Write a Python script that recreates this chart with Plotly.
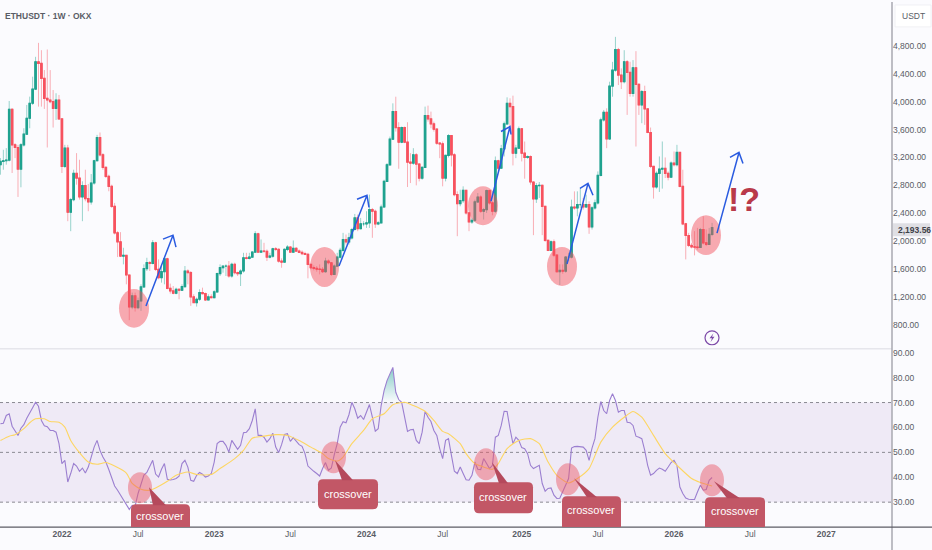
import pandas as pd
import plotly.graph_objects as go
from plotly.subplots import make_subplots

# Weekly ETHUSDT candles
first_week = "2021-08-09"
first_open = 3096

closes = [
    3143, 3153, 3162, 3891, 3381, 3343, 3034, 3381, 3534, 3762, 3977, 4181, 4572, 4548, 4334, 4048, 4024, 4000, 3905, 4024,
    3753, 3072, 3334, 2415, 2596, 2972, 2905, 2634, 2796, 2610, 2562, 2834, 3153, 3486, 3238, 3057, 2929, 2786, 2500, 2119,
    1991, 1786, 1796, 1515, 1057, 1215, 1048, 1143, 1343, 1605, 1691, 1681, 1976, 1596, 1477, 1562, 1748, 1324, 1286, 1253,
    1310, 1296, 1348, 1572, 1548, 1200, 1119, 1167, 1262, 1248, 1157, 1200, 1191, 1272, 1534, 1619, 1643, 1643, 1500, 1667,
    1548, 1534, 1572, 1762, 1753, 1772, 1843, 2105, 1843, 1857, 1855, 1772, 1786, 1891, 1881, 1715, 1700, 1881, 1915, 1843,
    1896, 1857, 1838, 1820, 1810, 1667, 1619, 1610, 1600, 1595, 1562, 1714, 1690, 1524, 1643, 1771, 1867, 2024, 1990, 2048,
    2167, 2333, 2181, 2248, 2248, 2262, 2452, 2429, 2248, 2262, 2490, 2857, 3095, 3462, 3857, 3629, 3419, 3629, 3419, 3133,
    3119, 3238, 3105, 2905, 3057, 3800, 3752, 3681, 3605, 3405, 3395, 2905, 3229, 3514, 3238, 2667, 2538, 2581, 2729, 2405,
    2276, 2300, 2562, 2633, 2429, 2452, 2724, 2548, 2429, 3152, 3048, 3324, 3681, 3976, 3929, 3262, 3333, 3610, 3262, 3200,
    3214, 2848, 2605, 2795, 2800, 2500, 2010, 1867, 1990, 1800, 1562, 1581, 1571, 1771, 1771, 2490, 2476, 2524, 2524, 2490,
    2524, 2205, 2476, 2548, 2943, 3738, 3848, 3467, 4224, 4452, 4748, 4381, 4286, 4572, 4419, 4119, 4486, 4248, 3953, 4143,
    3896, 3558, 3072, 2777, 2972, 3034, 3043, 2972, 2919, 3119, 3096, 3272, 2786, 2248, 2081, 1938, 1919, 1915, 1910, 2167,
    1976, 1953, 2096, 2193.56,
]
highs = [
    3191, 3310, 3334, 4010, 3905, 3405, 3381, 3405, 3619, 3953, 4072, 4358, 4643, 4843, 4738, 4453, 4748, 4453, 4167, 4120,
    4096, 3762, 3381, 3381, 2620, 3024, 3262, 3167, 2858, 3024, 2820, 2962, 3167, 3524, 3558, 3262, 3072, 2953, 2810, 2548,
    2143, 2129, 1905, 1786, 1381, 1262, 1262, 1191, 1381, 1667, 1762, 1715, 2015, 1991, 1738, 1667, 1762, 1762, 1391, 1357,
    1333, 1324, 1381, 1643, 1596, 1572, 1238, 1191, 1310, 1333, 1262, 1238, 1238, 1296, 1548, 1667, 1643, 1667, 1715, 1691,
    1691, 1562, 1596, 1833, 1833, 1833, 1857, 2143, 2120, 2024, 1976, 1881, 1833, 1905, 1915, 1896, 1753, 1896, 1943, 1929,
    2010, 1915, 1881, 1867, 1848, 1833, 1667, 1652, 1643, 1667, 1629, 1762, 1738, 1643, 1667, 1833, 1905, 2119, 2095, 2119,
    2190, 2390, 2381, 2333, 2286, 2429, 2667, 2476, 2452, 2286, 2524, 2881, 3119, 3500, 3976, 4071, 3705, 3643, 3643, 3705,
    3262, 3333, 3262, 3119, 3071, 3929, 3943, 3857, 3714, 3619, 3419, 3429, 3238, 3533, 3514, 3262, 2714, 2738, 2786, 2729,
    2405, 2333, 2595, 2690, 2657, 2476, 2738, 2738, 2571, 3214, 3167, 3381, 3714, 4062, 4048, 4086, 3381, 3643, 3619, 3429,
    3229, 3229, 2857, 2833, 2848, 2810, 2500, 2024, 2010, 2024, 1810, 1667, 1667, 1786, 1833, 2595, 2714, 2714, 2762, 2619,
    2667, 2571, 2500, 2595, 3000, 3771, 3881, 3905, 4286, 4571, 4929, 4771, 4477, 4738, 4596, 4572, 4596, 4724, 4262, 4167,
    4229, 3905, 3629, 3072, 3000, 3215, 3429, 3200, 3000, 3143, 3286, 3381, 3276, 3024, 2262, 2119, 1976, 2143, 2190, 2190,
    2357, 2167, 2190, 2262,
]
lows = [
    2953, 3024, 3096, 3143, 2977, 3191, 2634, 2772, 3357, 3596, 3619, 3953, 4167, 3929, 3929, 3896, 3343, 3977, 3629, 3738,
    3738, 2977, 3048, 2286, 2143, 2572, 2810, 2596, 2286, 2572, 2429, 2524, 2810, 3143, 3214, 3024, 2905, 2715, 2477, 2096,
    1772, 1772, 1667, 1381, 867, 1024, 991, 1024, 1000, 1333, 1572, 1572, 1667, 1572, 1453, 1405, 1381, 1310, 1248, 1238,
    1238, 1167, 1286, 1333, 1381, 1072, 1119, 1062, 1143, 1238, 1143, 1153, 1181, 1181, 1262, 1500, 1548, 1500, 1476, 1476,
    1524, 1500, 1357, 1548, 1738, 1738, 1762, 1833, 1833, 1833, 1833, 1715, 1753, 1762, 1857, 1691, 1619, 1691, 1857, 1833,
    1833, 1848, 1829, 1800, 1800, 1467, 1595, 1581, 1562, 1524, 1543, 1548, 1667, 1500, 1524, 1643, 1752, 1848, 1952, 1952,
    2024, 2152, 2143, 2167, 2214, 2190, 2190, 2048, 2190, 2229, 2262, 2476, 2848, 3086, 3452, 3571, 3038, 3405, 3405, 2776,
    2833, 3095, 2800, 2857, 2881, 3048, 3714, 3619, 3571, 3381, 3190, 2786, 2857, 3200, 3071, 2643, 2071, 2500, 2548, 2381,
    2143, 2248, 2276, 2548, 2405, 2310, 2405, 2524, 2371, 2405, 3000, 3038, 3214, 3667, 3643, 3086, 3190, 3324, 3143, 2895,
    3181, 2810, 2086, 2548, 2619, 2086, 1990, 1857, 1857, 1771, 1548, 1371, 1533, 1548, 1714, 1752, 2452, 2357, 2476, 2452,
    2476, 2105, 2167, 2452, 2524, 2929, 3714, 3333, 3452, 4071, 4429, 4238, 4181, 4262, 3810, 4072, 4072, 3357, 3810, 3691,
    3667, 3548, 3048, 2610, 2753, 2705, 2753, 2905, 2872, 2905, 3072, 3072, 2772, 2229, 1738, 1915, 1896, 1796, 1881, 1905,
    1953, 1929, 1953, 2072,
]

# RSI (14) per week and its moving average read at fewer weeks
rsi = [
    61.5, 61.7, 64.8, 65.5, 60.5, 58.8, 56.8, 59.7, 61.1, 63.7, 66.1, 67.9, 70.1, 68.5, 62.8, 60.7, 60.3, 58.8, 58.8, 58.1,
    53.5, 45.5, 46.8, 38.1, 41.5, 45.5, 44.5, 42.4, 43.7, 41.7, 44.1, 48.1, 52.1, 54.8, 50.8, 48.1, 46.1, 43.1, 39.5, 36.5,
    34.8, 32.8, 31.2, 29.1, 27.1, 28.7, 28.5, 33.5, 37.5, 40.9, 41.9, 44.1, 46.8, 41.3, 40.1, 43.2, 45.5, 39.2, 38.9, 39.1,
    39.5, 40.4, 45.5, 46.8, 44.1, 38.8, 38.4, 40.8, 41.9, 41.2, 40.1, 40.5, 41.5, 46.1, 53.5, 54.4, 54.4, 52.8, 50.1, 54.8,
    53.2, 51.2, 52.8, 57.9, 58.1, 59.5, 62.8, 67.5, 56.8, 56.8, 56.1, 54.1, 55.5, 57.7, 52.1, 49.9, 53.1, 57.2, 57.5, 54.4,
    55.9, 54.4, 53.1, 52.4, 49.5, 44.5, 43.3, 42.4, 41.5, 40.5, 43.5, 45.9, 42.8, 43.7, 49.1, 53.5, 60.1, 62.3, 61.9, 65.1,
    70.1, 67.5, 63.7, 64.8, 63.2, 66.1, 69.2, 64.1, 58.5, 59.5, 68.8, 74.8, 78.8, 81.5, 84.1, 74.1, 71.2, 70.1, 64.5, 58.4,
    59.1, 59.2, 54.8, 53.5, 58.1, 66.5, 64.1, 62.4, 58.8, 56.8, 51.5, 47.5, 54.8, 55.5, 48.8, 42.4, 41.5, 44.1, 41.5, 39.0,
    38.8, 40.8, 46.1, 43.2, 43.1, 47.5, 45.5, 43.5, 44.8, 56.1, 56.8, 60.8, 66.5, 66.4, 59.5, 53.5, 56.1, 54.8, 51.9, 51.5,
    49.5, 44.8, 43.5, 44.1, 44.8, 37.5, 34.4, 35.5, 35.7, 32.8, 31.5, 31.6, 34.1, 37.0, 39.5, 51.7, 52.3, 52.4, 52.3, 52.1,
    50.8, 46.8, 51.7, 55.5, 64.1, 70.4, 66.8, 65.5, 70.8, 73.5, 70.8, 66.1, 66.8, 66.8, 62.1, 61.9, 60.8, 56.5, 56.1, 55.5,
    50.8, 44.8, 40.8, 41.5, 42.8, 43.7, 43.2, 42.4, 44.1, 45.9, 46.8, 44.8, 36.1, 33.5, 31.7, 31.2, 31.1, 31.1, 34.1, 36.8,
    34.8, 35.1, 38.8, 39.9,
]
ma_weeks = [
    0, 3, 5, 8, 10, 12, 15, 17, 20, 22, 24, 27, 30, 33, 36, 39, 43, 45, 48, 51, 53, 57, 60, 64, 67, 72, 75, 80, 83, 86, 90,
    94, 98, 102, 106, 110, 112, 115, 117, 120, 124, 127, 131, 134, 138, 141, 145, 148, 151, 153, 157, 159, 162, 165, 168,
    170, 173, 177, 181, 184, 187, 190, 194, 197, 201, 205, 209, 213, 216, 219, 223, 227, 231, 236, 239, 243,
]
ma_values = [
    54.8, 56.5, 57.1, 59.5, 61.9, 63.5, 63.5, 62.4, 62.1, 60.1, 54.8, 49.9, 46.1, 45.2, 45.9, 44.5, 41.7, 37.5, 35.2, 34.8,
    35.7, 38.4, 40.8, 42.1, 41.1, 41.1, 43.5, 47.5, 50.8, 55.7, 56.5, 57.1, 56.8, 54.8, 52.1, 49.5, 47.5, 46.5, 48.1, 53.5,
    58.8, 63.5, 65.5, 69.1, 70.1, 68.8, 66.5, 62.8, 58.4, 57.5, 53.5, 49.5, 45.5, 44.1, 43.2, 45.5, 51.5, 54.8, 55.5, 53.5,
    46.1, 40.8, 37.7, 39.5, 43.5, 54.1, 60.1, 64.1, 66.4, 64.1, 56.8, 49.5, 44.8, 39.5, 37.9, 36.5,
]

# Axis ticks
price_ticks = [800, 1200, 1600, 2000, 2400, 2800, 3200, 3600, 4000, 4400, 4800]
rsi_ticks = [30, 40, 50, 60, 70, 80, 90]
time_ticks = ["2022-01-03", "2022-07-04", "2023-01-02", "2023-07-03", "2024-01-01", "2024-07-01",
              "2025-01-06", "2025-07-07", "2026-01-05", "2026-07-06", "2027-01-04"]
time_labels = ["<b>2022</b>", "Jul", "<b>2023</b>", "Jul", "<b>2024</b>", "Jul",
               "<b>2025</b>", "Jul", "<b>2026</b>", "Jul", "<b>2027</b>"]

W, H = 932, 550
FONT = "Liberation Sans"
TEXT = "#5a5d66"
BG = "#fbfbfe"
UP = "#1fa28f"
DOWN = "#f7525f"
PURPLE = "#9b7fd0"
YELLOW = "#fdd663"
BLUE = "#2a5be0"
CALLOUT = "#c25766"


# drawings on the chart are placed in screen pixels, like the hand drawn ones
def px(x):
    return x / W


def py(y):
    return 1 - y / H


def pt(x, y):
    return f"{px(x):.5f} {py(y):.5f}"


def label(x, y, text, size, color, xanchor="center"):
    return dict(xref="paper", yref="paper", x=px(x), y=py(y), xanchor=xanchor, yanchor="middle", text=text,
                showarrow=False, font=dict(family=FONT, size=size, color=color))


dates = pd.date_range(first_week, periods=len(closes), freq="7D")
opens = [first_open] + closes[:-1]
body_high = [max(o, c) for o, c in zip(opens, closes)]
body_low = [min(o, c) for o, c in zip(opens, closes)]

fig = make_subplots(rows=2, cols=1, shared_xaxes=True, vertical_spacing=0.01)

# Wicks are faded, bodies solid, so two candlestick layers
fig.add_trace(go.Candlestick(
    x=dates, open=opens, high=highs, low=lows, close=closes,
    increasing=dict(line=dict(color="rgba(31,162,143,0.45)", width=1), fillcolor=UP),
    decreasing=dict(line=dict(color="rgba(247,82,95,0.45)", width=1), fillcolor=DOWN),
    showlegend=False,
), row=1, col=1)
fig.add_trace(go.Candlestick(
    x=dates, open=opens, high=body_high, low=body_low, close=closes,
    increasing=dict(line=dict(color=UP, width=1.2), fillcolor=UP),
    decreasing=dict(line=dict(color=DOWN, width=1.2), fillcolor=DOWN),
    showlegend=False,
), row=1, col=1)

# Overbought shading of the RSI
peak_dates = dates[129:138]
peak_rsi = [max(v, 70) for v in rsi[129:138]]
fig.add_trace(go.Scatter(x=peak_dates, y=[70] * len(peak_rsi), mode="lines", line=dict(width=0),
                         showlegend=False, hoverinfo="skip"), row=2, col=1)
fig.add_trace(go.Scatter(x=peak_dates, y=peak_rsi, mode="lines", line=dict(width=0), fill="tonexty",
                         fillgradient=dict(type="vertical",
                                           colorscale=[[0, "rgba(38,166,154,0)"], [1, "rgba(38,166,154,0.55)"]]),
                         showlegend=False, hoverinfo="skip"), row=2, col=1)

fig.add_trace(go.Scatter(x=dates, y=rsi, mode="lines", line=dict(color=PURPLE, width=1.1),
                         showlegend=False), row=2, col=1)
fig.add_trace(go.Scatter(x=dates[ma_weeks], y=ma_values, mode="lines",
                         line=dict(color=YELLOW, width=1.1, shape="spline", smoothing=0.6),
                         showlegend=False), row=2, col=1)

shapes = []
annotations = []

# RSI band and levels
shapes.append(dict(type="rect", xref="x2 domain", yref="y2", x0=0, x1=1, y0=30, y1=70,
                   fillcolor="#efeaf6", line_width=0, layer="below"))
for level in [30, 50, 70]:
    shapes.append(dict(type="line", xref="x2 domain", yref="y2", x0=0, x1=1, y0=level, y1=level,
                       line=dict(color="#8a8a92", width=1, dash="3px,3px"), layer="below"))

# Panel borders
shapes.append(dict(type="line", xref="paper", yref="paper", x0=0, x1=px(892), y0=py(348), y1=py(348),
                   line=dict(color="#e6e6ec", width=1.5)))
shapes.append(dict(type="line", xref="paper", yref="paper", x0=px(892), x1=px(892), y0=0, y1=1,
                   line=dict(color="#a9a9b0", width=1.5)))
shapes.append(dict(type="line", xref="paper", yref="paper", x0=0, x1=1, y0=py(527), y1=py(527),
                   line=dict(color="#5c5c64", width=1.2)))

# Circles on the price panel
for x0, x1, y0, y1 in [(119, 149, 288, 327), (310, 339, 246, 286), (468, 498, 185, 224),
                       (547, 577, 246, 285), (691, 721, 214, 254)]:
    shapes.append(dict(type="circle", xref="paper", yref="paper", x0=px(x0), x1=px(x1), y0=py(y0), y1=py(y1),
                       fillcolor="rgba(242,80,92,0.48)", line_width=0))

# Blue arrows: start, tip, two barbs
for sx, sy, tx, ty, ax, ay, bx, by in [(146, 305, 173, 234, 163, 238, 176, 246),
                                       (339, 265, 367, 194, 357, 198, 369, 206),
                                       (491, 200, 510, 125, 501, 130, 511, 133),
                                       (567, 263, 588, 182, 580, 187, 593, 194),
                                       (717, 232, 739, 151, 730, 156, 743, 162)]:
    shapes.append(dict(type="path", xref="paper", yref="paper",
                       path=f"M {pt(sx, sy)} L {pt(tx, ty)} M {pt(ax, ay)} L {pt(tx, ty)} L {pt(bx, by)}",
                       line=dict(color=BLUE, width=1.5)))

# Crossover callouts: box, pointer tip and base, text centre, circle
# boxes ending at 527 are cut by the panel edge, so they get square bottom corners
callouts = [
    ((131, 190, 504, 527), (149, 487, 153, 166), (160, 516), (128, 152, 472, 503)),
    ((318, 378, 479, 509), (335, 460, 342, 353), (348, 494), (321, 346, 441, 473)),
    ((474, 533, 482, 513), (492, 462, 499, 508), (503, 497), (474, 498, 448, 480)),
    ((562, 621, 496, 527), (574, 478, 587, 597), (591, 510), (556, 580, 463, 495)),
    ((705, 765, 497, 527), (714, 481, 727, 740), (735, 511), (700, 724, 464, 496)),
]
for (x0, x1, y0, y1), (tipx, tipy, b0, b1), (tx, ty), (cx0, cx1, cy0, cy1) in callouts:
    shapes.append(dict(type="circle", xref="paper", yref="paper", x0=px(cx0), x1=px(cx1), y0=py(cy0), y1=py(cy1),
                       fillcolor="rgba(235,90,105,0.48)", line_width=0))
    r = 5
    rb = 0 if y1 == 527 else r
    box = (f"M {pt(x0 + r, y0)} L {pt(x1 - r, y0)} Q {pt(x1, y0)} {pt(x1, y0 + r)} "
           f"L {pt(x1, y1 - rb)} Q {pt(x1, y1)} {pt(x1 - rb, y1)} L {pt(x0 + rb, y1)} "
           f"Q {pt(x0, y1)} {pt(x0, y1 - rb)} L {pt(x0, y0 + r)} Q {pt(x0, y0)} {pt(x0 + r, y0)} Z")
    shapes.append(dict(type="path", xref="paper", yref="paper", path=box, fillcolor=CALLOUT, line_width=0))
    shapes.append(dict(type="path", xref="paper", yref="paper",
                       path=f"M {pt(tipx, tipy)} L {pt(b0, y0 + 1)} L {pt(b1, y0 + 1)} Z",
                       fillcolor="#b5495c", line_width=0))
    annotations.append(label(tx, ty, "crossover", 11, "white"))

# Lightning badge
shapes.append(dict(type="circle", xref="paper", yref="paper", x0=px(705), x1=px(719), y0=py(330), y1=py(344),
                   fillcolor="rgba(0,0,0,0)", line=dict(color="#7d4aa8", width=1.2)))
shapes.append(dict(type="path", xref="paper", yref="paper",
                   path=f"M {pt(713.5, 332.5)} L {pt(709.5, 337.5)} L {pt(712, 337.5)} L {pt(710.5, 341.5)} "
                        f"L {pt(714.5, 336)} L {pt(712, 336)} Z",
                   fillcolor="#7d4aa8", line_width=0))

# USDT button and last price tag
shapes.append(dict(type="rect", xref="paper", yref="paper", x0=px(895), x1=px(931), y0=py(3), y1=py(25),
                   fillcolor="white", line=dict(color="#f0f0f4", width=1)))
shapes.append(dict(type="rect", xref="paper", yref="paper", x0=px(893), x1=px(930), y0=py(222), y1=py(235),
                   fillcolor="#dfdfe4", line_width=0))
annotations.append(label(900, 14, "USDT", 8.5, TEXT, "left"))
annotations.append(label(896, 228.5, "<b>2,193.56</b>", 8.5, "#3e4048", "left"))
annotations.append(label(3, 14, "<b>ETHUSDT · 1W · OKX</b>", 8.5, TEXT, "left"))
annotations.append(label(744, 198, "<b>!?</b>", 34, "#b93a4a"))

axis_font = dict(family=FONT, size=8.5, color=TEXT)
fig.update_xaxes(range=["2021-08-08", "2027-06-10"], domain=[0, 892 / W], showgrid=False, zeroline=False,
                 showline=False, ticks="", rangeslider_visible=False, tickmode="array",
                 tickvals=time_ticks, ticktext=time_labels, tickfont=axis_font, ticklabelposition="outside")
fig.update_yaxes(side="right", showgrid=False, zeroline=False, showline=False, ticks="", tickfont=axis_font,
                 tickformat=",.2f", tickmode="array")
fig.update_yaxes(range=[486, 5429], domain=[1 - 346 / H, 1], tickvals=price_ticks, row=1, col=1)
fig.update_yaxes(range=[20, 91.2], domain=[1 - 527 / H, 1 - 349 / H], tickvals=rsi_ticks, row=2, col=1)

fig.update_layout(
    width=W, height=H,
    margin=dict(l=0, r=0, t=0, b=0),
    paper_bgcolor=BG, plot_bgcolor=BG,
    shapes=shapes, annotations=annotations,
    showlegend=False, dragmode=False,
    font=dict(family=FONT),
)

# page body margin would push the chart off the 932x550 window
fig.write_html("out.html", config=dict(displayModeBar=False),
               post_script="document.body.style.margin='0';document.body.style.background='#fbfbfe';")
